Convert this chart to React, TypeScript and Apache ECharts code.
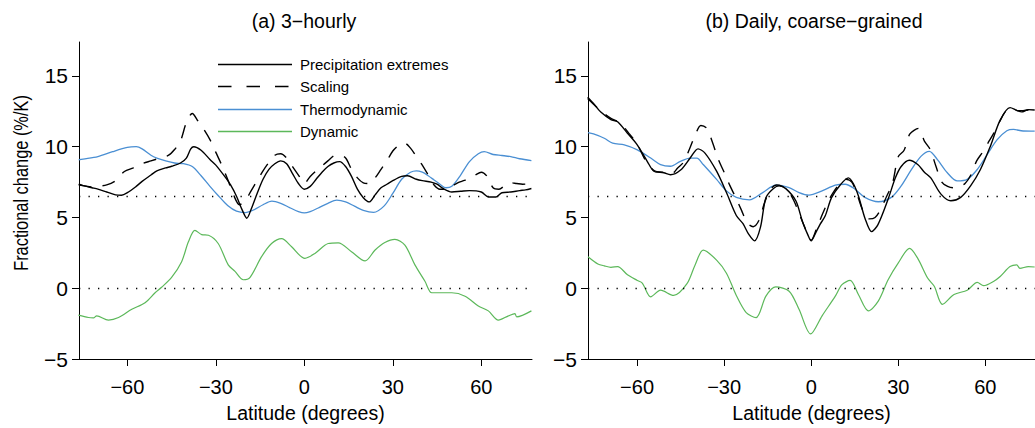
import React, { useEffect, useRef } from "react";
import * as echarts from "echarts";

const FONT = "'Liberation Sans', Arial, Helvetica, sans-serif";

const NAMES = ["Precipitation extremes", "Scaling", "Thermodynamic", "Dynamic"];
const TITLES = ["(a) 3\u2212hourly", "(b) Daily, coarse\u2212grained"];
const X_TICKS = [-60, -30, 0, 30, 60];
const Y_TICKS = [-5, 0, 5, 10, 15];
const REF_LINES = [0, 6.5];

// ---- Panel (a): 3-hourly ----
const latPrecipA = [-76.5,-75,-72,-70,-67,-64,-62,-60,-57,-55,-52,-50,-47,-45,-42,-40,-38.5,-37.5,-35,-32,-30,-27,-25,-23,-21,-19.5,-18,-16,-14,-12,-10,-8,-6,-4,-2,0,2,4,6,8,10,12,14,16,18,20,22,24,26,28,30,33,35,38,40,43,45,47,50,53,56,60,62.5,65,67,70,73,75,77];
const valPrecipA = [7.35,7.25,7.1,7.0,6.8,6.6,6.57,6.75,7.2,7.55,8.0,8.3,8.5,8.62,8.85,9.2,9.85,10.0,9.75,9.1,8.7,7.9,7.3,6.5,5.5,4.95,5.6,6.7,7.7,8.4,8.8,9.0,8.8,8.1,7.4,7.0,7.2,7.7,8.2,8.6,8.85,8.95,8.6,7.9,7.0,6.4,6.1,6.6,7.1,7.35,7.6,7.9,7.95,7.7,7.6,7.5,7.35,7.05,6.8,6.85,6.9,6.8,6.45,6.45,6.75,6.8,6.9,6.95,7.05];

const latScaleA = [-76.5,-75,-72,-70,-67,-64,-61,-58,-55,-52,-49,-46,-44,-42,-40,-38,-36,-34,-32,-30,-28,-26,-24,-22,-20,-18,-16,-14,-12,-10,-8,-6,-4,-2,0,2,4,6,8,10,12,14,16,18,20,22,24,26,28,30,32,34,36,38,40,42,44,46,48,50,52,54,56,58,60,62,64,66,68,70,72,74,77];
const valScaleA = [7.3,7.25,7.15,7.2,7.3,7.6,8.25,8.5,8.8,9.0,9.2,9.4,9.8,10.4,11.7,12.35,11.8,11.2,10.5,9.6,8.7,7.7,6.6,5.9,6.2,6.9,7.6,8.3,8.9,9.4,9.5,9.2,8.6,8.0,7.4,7.9,8.3,8.65,9.0,9.35,9.4,9.2,8.4,7.8,7.45,7.4,7.8,8.4,9.0,9.7,10.1,10.25,9.9,9.3,8.7,8.0,7.3,7.0,7.0,7.2,7.45,7.6,7.75,8.0,8.2,7.9,7.1,7.0,7.25,7.45,7.4,7.35,7.4];

const latThermoA = [-76.5,-75,-70,-65,-60,-57,-55,-52,-50,-47,-44,-41,-38,-35,-32,-29,-26,-23,-20,-17,-14,-11,-8,-5,-2,0,2,5,8,11,14,17,20,23.5,27,30,33,36,38,40,42,44,46,48,50,53,56,59,61,64,67,70,73,77];
const valThermoA = [9.08,9.13,9.3,9.65,9.95,10.0,9.85,9.4,9.2,9.0,8.85,8.8,8.6,7.95,7.2,6.5,5.85,5.45,5.35,5.55,5.9,6.15,6.0,5.7,5.42,5.32,5.42,5.7,6.0,6.22,6.1,5.8,5.5,5.36,5.8,6.7,7.7,8.2,8.3,8.2,7.95,7.65,7.35,7.1,7.2,8.0,8.95,9.5,9.65,9.45,9.38,9.3,9.15,9.02];

const latDynA = [-76.6,-73.2,-71.5,-70.4,-66.4,-63,-58.5,-54,-50.6,-48.4,-45,-41.6,-39.3,-37.1,-34.8,-32.5,-29.2,-25.8,-23.5,-20.7,-18.4,-14.5,-11.1,-7.7,-4.3,0.2,3.6,8.1,11.5,16,20.6,24,27.3,30.7,34.1,37.5,40.9,43.2,46.6,50,54.5,59,62.4,65.8,69.2,71.4,72,77];
const valDynA = [-1.9,-2.07,-2.1,-1.95,-2.25,-2.07,-1.49,-1.02,-0.32,0.07,0.77,1.88,3.28,4.09,3.79,3.74,3.16,1.65,1.19,0.6,0.77,2.23,3.16,3.51,2.93,2.11,2.46,3.16,3.21,2.58,1.93,2.7,3.23,3.46,3.04,1.65,0.49,-0.32,-0.32,-0.32,-0.56,-1.25,-1.6,-2.25,-1.95,-1.79,-2.02,-1.6];

// ---- Panel (b): daily, coarse-grained ----
const latPrecipB = [-77,-75,-72.5,-69,-66.7,-63.3,-60,-56.5,-54.2,-50.8,-48.5,-45,-41.7,-39,-36.6,-32.6,-29.2,-25.8,-23.5,-21.5,-19.5,-17.5,-15.6,-13,-11,-8.75,-5.3,-3,-1,0,1.5,3,4.8,7,10,12.8,14.5,16.3,18.6,20.8,23,26.5,29,31,33.8,36.7,39,41.2,44.7,48.1,51.5,54.9,58.3,61.7,65.1,68.5,70.8,72.5,74.8,77];
const valPrecipB = [13.5,13.05,12.45,11.92,11.76,10.95,10.15,8.97,8.27,8.16,8.02,8.35,9.2,9.85,9.55,8.27,6.76,5.14,4.56,3.8,3.35,4.3,6.4,7.05,7.23,7.04,6.18,4.7,3.7,3.35,3.9,4.5,5.1,6.4,7.3,7.8,7.4,6.5,4.9,4.0,4.5,6.3,7.8,8.6,9.04,8.74,8.2,7.8,6.65,6.18,6.42,7.23,8.39,10.02,11.88,12.76,12.57,12.46,12.62,12.6];

const latScaleB = [-77,-75,-72,-69,-66,-63,-60,-57,-54,-51,-48,-46,-44,-42,-40,-38,-36,-34,-32,-30,-28,-26,-24,-22,-20,-18,-16,-14,-12,-10,-8,-6,-4,-2,0,2,4,6,8,10,12,14,16,18,20,22,24,26,28,30,32,34,37,39,41,43,45,47,49,51,53,55,57,59,61,63,65,67,69,71,73,75,77];
const valScaleB = [13.4,13.0,12.45,12.0,11.7,11.0,10.2,9.0,8.3,8.2,8.1,8.5,8.9,9.8,10.8,11.5,11.3,10.3,9.1,8.2,7.25,6.4,5.5,4.6,4.35,4.8,6.1,7.0,7.3,7.2,6.9,6.2,5.2,4.2,3.4,4.3,5.3,6.2,6.9,7.4,7.7,7.5,6.5,5.4,4.9,5.0,5.6,6.5,7.4,9.3,9.75,10.9,11.3,10.4,9.8,8.6,7.5,7.2,7.1,7.2,7.4,8.0,9.0,9.6,10.3,11.0,11.8,12.5,12.7,12.55,12.55,12.6,12.6];

const latThermoB = [-76.9,-75,-71.3,-68.4,-64.4,-59.9,-55.3,-51.9,-48.5,-45.1,-41.7,-39.4,-37.2,-32.6,-29.2,-25.8,-21.3,-16.7,-12.2,-7.6,-4.2,-0.8,3.75,8.3,11.7,15.1,18.5,23.1,27.6,31,34.4,37.8,40.7,43.5,46.9,50.3,53.75,57.2,60.6,64,67.4,69.7,73,77];
const valThermoB = [10.99,10.9,10.6,10.25,10.13,9.78,9.2,8.74,8.62,8.97,9.2,9.2,8.74,7.69,6.88,6.42,6.25,6.76,7.28,7.11,6.76,6.58,6.88,7.28,7.35,7.0,6.42,6.11,6.42,7.23,8.34,9.32,9.67,9.09,8.16,7.58,7.69,8.39,9.44,10.48,11.13,11.22,11.11,11.1];

const latDynB = [-76.9,-73.5,-71.25,-69,-66.7,-63.3,-59.9,-58.2,-55.3,-51.9,-47.4,-42.8,-40,-37.2,-32.6,-29.2,-25.8,-22.4,-19,-15.6,-12.2,-7.6,-4.2,-0.2,3.75,8.3,10.6,13.4,16.25,19.7,23.1,26.5,29.9,33.9,36.7,40.1,42.4,45.2,49.2,53.75,57.2,59.4,62.8,65.1,68.5,70.8,71.9,74.8,77];
const valDynB = [2.23,1.72,1.58,1.48,1.53,0.95,0.55,0.37,-0.61,-0.14,-0.51,0.32,1.65,2.69,1.99,1.06,-0.51,-1.72,-2.07,-0.56,0.09,-0.21,-1.49,-3.23,-1.95,-0.56,0.25,0.55,-0.44,-1.6,-0.91,0.6,1.76,2.81,2.11,0.72,0.14,-1.14,-0.44,-0.14,0.41,0.18,0.48,0.83,1.53,1.65,1.41,1.53,1.5];

const zip = (xs: number[], ys: number[]) => xs.map((x, i) => [x, ys[i]]);
const minus = (v: number) => String(v).replace("-", "\u2212");

const COLORS = ["#000000", "#000000", "#4a8fd3", "#5cb85a"];
const WIDTHS = [1.4, 1.4, 1.3, 1.2];
const DASHES: (number[] | null)[] = [null, [13, 11], null, null];

function buildOption() {
  const grids = [
    { left: 79, top: 42, width: 453, height: 321 },
    { left: 588, top: 42, width: 453, height: 321 },
  ];
  const xRanges = [
    [-76.4, 77.2],
    [-76.9, 77.1],
  ];
  const labelStyle = { color: "#000", fontFamily: FONT, fontSize: 20 };
  const xAxis = xRanges.map((r, i) => ({
    type: "value",
    gridIndex: i,
    min: r[0],
    max: r[1],
    axisLine: { show: true, onZero: false, lineStyle: { color: "#000", width: 1 } },
    axisTick: { show: true, inside: false, length: 7, customValues: X_TICKS, lineStyle: { color: "#000", width: 1 } },
    axisLabel: { show: true, customValues: X_TICKS, margin: 18, formatter: (v: number) => minus(v), ...labelStyle },
    splitLine: { show: false },
    name: "Latitude (degrees)",
    nameLocation: "middle",
    nameGap: 44,
    nameTextStyle: { color: "#000", fontFamily: FONT, fontSize: 19.5 },
  }));
  const yAxis = [0, 1].map((i) => ({
    type: "value",
    gridIndex: i,
    min: -5,
    max: 17.4,
    axisLine: { show: true, onZero: false, lineStyle: { color: "#000", width: 1 } },
    axisTick: { show: true, inside: false, length: 7, customValues: Y_TICKS, lineStyle: { color: "#000", width: 1 } },
    axisLabel: { show: true, customValues: Y_TICKS, margin: 11, formatter: (v: number) => minus(v), ...labelStyle, fontSize: 21 },
    splitLine: { show: false },
  }));

  const refMark = {
    silent: true,
    symbol: ["none", "none"],
    label: { show: false },
    emphasis: { disabled: true },
    lineStyle: { color: "#000", type: [1.3, 8.2], width: 1.3, cap: "butt" },
    data: REF_LINES.map((v) => ({ yAxis: v })),
  };

  const panels = [
    [zip(latPrecipA, valPrecipA), zip(latScaleA, valScaleA), zip(latThermoA, valThermoA), zip(latDynA, valDynA)],
    [zip(latPrecipB, valPrecipB), zip(latScaleB, valScaleB), zip(latThermoB, valThermoB), zip(latDynB, valDynB)],
  ];
  const drawOrder = [2, 3, 1, 0];
  const series: any[] = [];
  panels.forEach((p, i) => {
    drawOrder.forEach((k) => {
      series.push({
        type: "line",
        name: NAMES[k],
        xAxisIndex: i,
        yAxisIndex: i,
        data: p[k],
        symbol: "none",
        showSymbol: false,
        smooth: 0.3,
        silent: true,
        clip: true,
        lineStyle: { color: COLORS[k], width: WIDTHS[k], type: DASHES[k] || "solid" },
        itemStyle: { color: COLORS[k] },
        ...(k === 3 ? { markLine: refMark } : {}),
      });
    });
  });

  // legend drawn as graphic elements in panel (a)
  const legendRows = [64.5, 86.5, 109.5, 131.5];
  const legendEls: any[] = [];
  NAMES.forEach((n, k) => {
    const y = legendRows[k];
    legendEls.push({
      type: "line",
      shape: { x1: 218, y1: y, x2: 292, y2: y },
      style: { stroke: COLORS[k], lineWidth: 1.4, lineDash: k === 1 ? [13.5, 15] : null },
      silent: true,
      z: 10,
    });
    legendEls.push({
      type: "text",
      x: 300,
      y: y - 0.5,
      style: { text: n, fill: "#000", font: `15px ${FONT}`, textAlign: "left", textVerticalAlign: "middle" },
      silent: true,
      z: 10,
    });
  });

  return {
    animation: false,
    backgroundColor: "#ffffff",
    grid: grids,
    xAxis,
    yAxis,
    series,
    graphic: [
      ...legendEls,
      { type: "text", x: 304, y: 21, style: { text: TITLES[0], fill: "#000", font: `19.5px ${FONT}`, textAlign: "center", textVerticalAlign: "middle" } },
      { type: "text", x: 814, y: 21, style: { text: TITLES[1], fill: "#000", font: `19.5px ${FONT}`, textAlign: "center", textVerticalAlign: "middle" } },
      { type: "text", x: 21, y: 183, rotation: Math.PI / 2, scaleX: 0.82, style: { text: "Fractional change (%/K)", fill: "#000", font: `20px ${FONT}`, textAlign: "center", textVerticalAlign: "middle" } },
    ],
  };
}

export default function App() {
  const ref = useRef<HTMLDivElement>(null);
  useEffect(() => {
    if (!ref.current) return;
    const chart = echarts.init(ref.current, null, { renderer: "svg" });
    chart.setOption(buildOption() as any);
    return () => chart.dispose();
  }, []);
  return (
    <div
      ref={ref}
      style={{ position: "fixed", left: 0, top: 0, width: 1035, height: 428, background: "#fff" }}
    />
  );
}
